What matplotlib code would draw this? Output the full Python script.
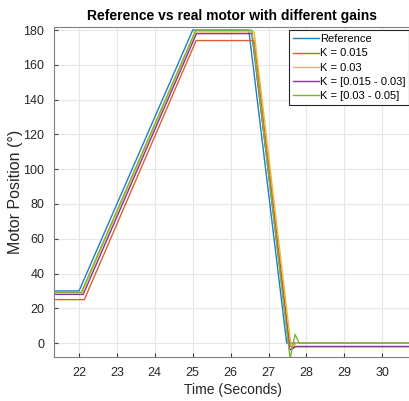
import matplotlib as mpl
mpl.use('Agg')
import matplotlib.pyplot as plt

# Series breakpoints (time in s, position in deg)
t_ref = [21.3, 22.0, 25.0, 26.48, 27.48, 30.8]
y_ref = [30, 30, 180, 180, 0, 0]

t_k015 = [21.3, 22.14, 25.09, 26.62, 27.56, 27.63, 27.72, 30.8]
y_k015 = [25, 25, 174, 174, -1, -3, -2, -2]

t_k03 = [21.3, 22.08, 25.08, 26.62, 27.58, 27.64, 27.74, 30.8]
y_k03 = [29, 29, 179, 179, 1, -2, 0, 0]

t_k015_03 = [21.3, 22.11, 25.1, 26.56, 27.55, 27.6, 27.7, 30.8]
y_k015_03 = [28, 28, 178, 178, -3, -4, -2, -2]

t_k03_05 = [21.3, 22.06, 25.08, 26.56, 27.57, 27.7, 27.81, 30.8]
y_k03_05 = [29.2, 29.2, 180, 180, -9, 5, 0, 0]

labels = ['Reference', 'K = 0.015', 'K = 0.03',
          'K = [0.015 - 0.03]', 'K = [0.03 - 0.05]']
colors = ['#1f7fc4', '#dd5f2c', '#efb833', '#84399a', '#7db33c']

plt.rcParams['font.family'] = ['Liberation Sans', 'DejaVu Sans']

fig = plt.figure(figsize=(4.09, 4.01), dpi=100)
ax = fig.add_axes([54 / 409, 44 / 401, 357 / 409, 330 / 401])

series = [(t_ref, y_ref), (t_k015, y_k015), (t_k03, y_k03),
          (t_k015_03, y_k015_03), (t_k03_05, y_k03_05)]
for (t, y), lab, c in zip(series, labels, colors):
    ax.plot(t, y, color=c, linewidth=1.0, label=lab)

ax.set_xlim(21.34, 30.76)
ax.set_ylim(-8, 181.8)
ax.set_xticks(range(22, 31))
ax.set_yticks(range(0, 181, 20))

# MATLAB-like look
ax.grid(True, color='#e6e6e6', linewidth=0.8)
ax.set_axisbelow(True)
ax.tick_params(direction='in', length=3, colors='#404040', labelsize=9,
               labelcolor='#262626')
ax.tick_params(axis='y', pad=7)
ax.tick_params(axis='x', pad=7)
for s in ax.spines.values():
    s.set_color('#7f7f7f')
    s.set_linewidth(0.8)

ax.set_xlabel('Time (Seconds)', fontsize=10, color='#262626', labelpad=3)
ax.set_ylabel('Motor Position (°)', fontsize=11.5, color='#262626', labelpad=0)
ax.set_title('Reference vs real motor with different gains', fontsize=10,
             fontweight='bold', pad=5)

leg = ax.legend(loc='upper right', bbox_to_anchor=(0.995, 0.99), fontsize=8,
                fancybox=False, framealpha=1, edgecolor='#262626',
                handlelength=2.3, handletextpad=0.1, labelspacing=0.38,
                borderpad=0.35, borderaxespad=0.0)
leg.get_frame().set_linewidth(0.8)

fig.savefig('out.png', dpi=100)
